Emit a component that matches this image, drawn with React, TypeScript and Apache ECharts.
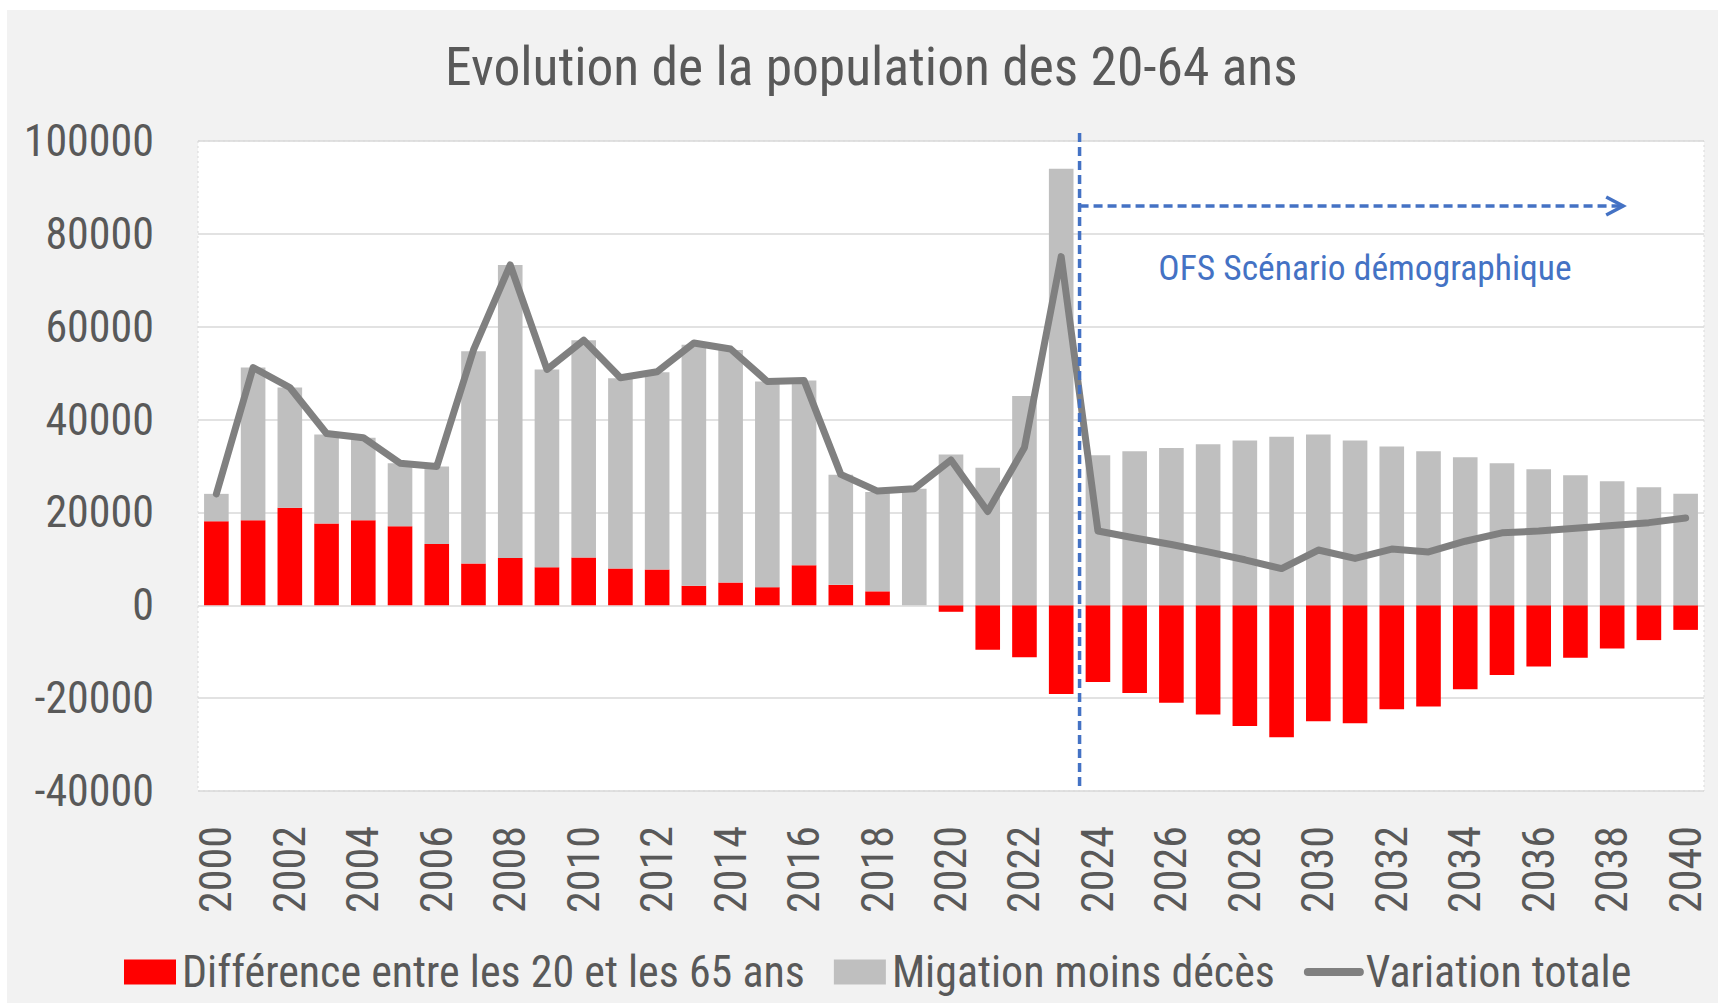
import React, { useEffect, useRef } from "react";
import * as echarts from "echarts";

const years = Array.from({ length: 41 }, (_, i) => String(2000 + i));

const diff2065 = [
  18100, 18300, 21000, 17600, 18300, 17000, 13200, 9000, 10200, 8200, 10300,
  7900, 7700, 4200, 4900, 3900, 8600, 4400, 3000, 0, -1400, -9600, -11200,
  -19100, -16500, -18900, -21000, -23500, -26000, -28400, -25000, -25400,
  -22400, -21800, -18100, -15000, -13200, -11300, -9300, -7500, -5300,
];

const migration = [
  5900, 32900, 25900, 19200, 17800, 13600, 16700, 45700, 63100, 42600, 46800,
  41000, 42500, 51900, 50100, 44300, 39800, 23700, 21400, 25100, 32500, 29600,
  45100, 94000, 32300, 33200, 33900, 34700, 35500, 36300, 36800, 35500, 34200,
  33200, 31900, 30600, 29300, 28000, 26700, 25400, 24000,
];

const totalVariation = [
  24000, 51200, 46900, 37000, 36100, 30600, 29900, 55000, 73300, 50800, 57100,
  49000, 50300, 56500, 55200, 48200, 48400, 28200, 24600, 25100, 31300, 20200,
  34000, 75100, 16000, 14500, 13100, 11500, 9800, 7900, 11900, 10100, 12100,
  11500, 13800, 15600, 16000, 16600, 17200, 17800, 18800,
];

const yTicks = { min: -40000, max: 100000, interval: 20000 };

const seriesNames = [
  "Différence entre les 20 et les 65 ans",
  "Migation moins décès",
  "Variation totale",
];

const titleText = "Evolution de la population des 20-64 ans";
const scenarioText = "OFS Scénario démographique";

const FONT = "'Roboto Condensed', 'Liberation Sans', sans-serif";
const TEXT_COLOR = "#595959";
const BLUE = "#4472c4";

export default function App() {
  const ref = useRef<HTMLDivElement>(null);

  useEffect(() => {
    if (!ref.current) return;
    const chart = echarts.init(ref.current, undefined, { renderer: "svg" });
    const option: any = {
      animation: false,
      backgroundColor: "#f2f2f2",
      title: {
        text: titleText,
        left: 433,
        top: 24,
        textStyle: {
          fontFamily: FONT,
          fontSize: 53.5,
          fontWeight: "normal",
          color: TEXT_COLOR,
        },
      },
      legend: {
        top: 940,
        left: 117,
        itemWidth: 52,
        itemHeight: 25,
        itemGap: 29,
        padding: 0,
        textStyle: { fontFamily: FONT, fontSize: 44, color: TEXT_COLOR, padding: [0, 0, 0, 1] },
        data: [
          { name: seriesNames[0], icon: "rect" },
          { name: seriesNames[1], icon: "rect" },
          {
            name: seriesNames[2],
            itemStyle: { color: "rgba(0,0,0,0)", borderWidth: 0 },
            lineStyle: { color: "#808080", width: 8, cap: "round" },
          },
        ],
      },
      grid: {
        left: 191,
        right: 14,
        top: 131,
        bottom: 212,
        show: true,
        backgroundColor: "#ffffff",
        borderWidth: 0,
        outerBoundsMode: "none",
        containLabel: false,
      },
      xAxis: {
        type: "category",
        data: years,
        axisLine: { show: false, onZero: false },
        axisTick: { show: false },
        axisLabel: {
          interval: 1,
          rotate: 90,
          margin: 35,
          fontFamily: FONT,
          fontSize: 44,
          color: TEXT_COLOR,
        },
      },
      yAxis: {
        type: "value",
        min: yTicks.min,
        max: yTicks.max,
        interval: yTicks.interval,
        axisLine: { show: false },
        axisTick: { show: false },
        axisLabel: {
          margin: 44,
          fontFamily: FONT,
          fontSize: 44,
          color: TEXT_COLOR,
          formatter: (v: number) => String(v),
        },
        splitLine: { lineStyle: { color: "#d9d9d9", width: 1.5 } },
      },
      series: [
        {
          name: seriesNames[0],
          type: "bar",
          stack: "total",
          data: diff2065,
          barWidth: "67%",
          itemStyle: { color: "#ff0000" },
        },
        {
          name: seriesNames[1],
          type: "bar",
          stack: "total",
          data: migration,
          barWidth: "67%",
          itemStyle: { color: "#bfbfbf" },
        },
        {
          name: seriesNames[2],
          type: "line",
          data: totalVariation,
          symbol: "none",
          z: 5,
          lineStyle: { color: "#808080", width: 7, cap: "round", join: "round" },
          itemStyle: { color: "#808080" },
        },
      ],
    };
    chart.setOption(option);

    const px = (cat: string, val: number) =>
      chart.convertToPixel({ xAxisIndex: 0, yAxisIndex: 0 }, [cat, val]) as number[];
    const p2023 = px("2023", 0);
    const p2024 = px("2024", 0);
    const catW = p2024[0] - p2023[0];
    const xSplit = (p2023[0] + p2024[0]) / 2;
    const yTop = px("2000", yTicks.max)[1];
    const yBot = px("2000", yTicks.min)[1];
    const xLeft = px("2000", 0)[0] - catW / 2;
    const xRight = px("2040", 0)[0] + catW / 2;
    const yArrow = px("2000", 86000)[1];
    const xArrowTip = px("2038", 0)[0] + catW * 0.3;
    const txt = px("2031", 72600);

    chart.setOption({
      graphic: [
        {
          type: "rect",
          silent: true,
          shape: { x: xLeft, y: yTop, width: xRight - xLeft, height: yBot - yTop },
          style: { fill: "none", stroke: "#d9d9d9", lineWidth: 1, lineDash: [2, 3] },
          z: 1,
        },
        {
          type: "line",
          silent: true,
          shape: { x1: xSplit, y1: yTop - 8, x2: xSplit, y2: yBot },
          style: { stroke: BLUE, lineWidth: 3.5, lineDash: [9, 5] },
          z: 10,
        },
        {
          type: "line",
          silent: true,
          shape: { x1: xSplit, y1: yArrow, x2: xArrowTip - 2, y2: yArrow },
          style: { stroke: BLUE, lineWidth: 3.5, lineDash: [9, 5] },
          z: 10,
        },
        {
          type: "polyline",
          silent: true,
          shape: {
            points: [
              [xArrowTip - 17, yArrow - 9],
              [xArrowTip, yArrow],
              [xArrowTip - 17, yArrow + 9],
            ],
          },
          style: { stroke: BLUE, lineWidth: 3.5, fill: "none" },
          z: 10,
        },
        {
          type: "text",
          silent: true,
          x: txt[0] + catW * 0.27,
          y: txt[1],
          style: {
            text: scenarioText,
            fontFamily: FONT,
            fontSize: 35.5,
            fill: BLUE,
            align: "center",
            verticalAlign: "middle",
          },
          z: 10,
        },
      ],
    });

    return () => chart.dispose();
  }, []);

  return (
    <div
      style={{
        position: "absolute",
        left: 0,
        top: 0,
        width: 1718,
        height: 1005,
        background: "#ffffff",
      }}
    >
      <div
        ref={ref}
        style={{ position: "absolute", left: 7, top: 10, width: 1711, height: 993 }}
      />
    </div>
  );
}
